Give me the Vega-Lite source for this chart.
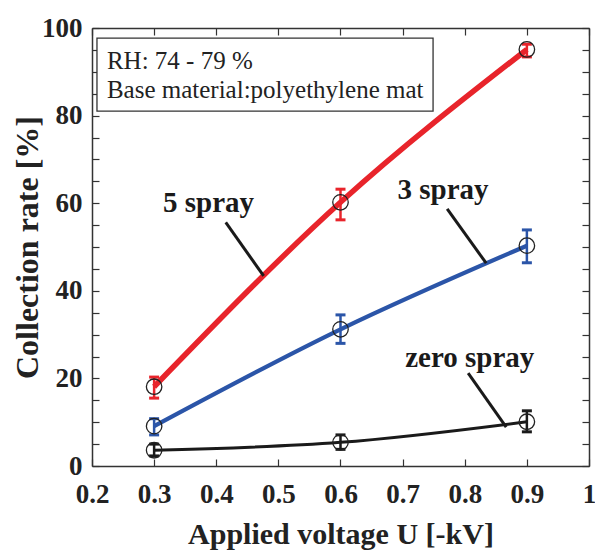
{
  "$schema": "https://vega.github.io/schema/vega-lite/v6.json",
  "autosize": {"type": "none"},
  "padding": {"left": 92, "top": 28, "right": 6, "bottom": 84},
  "width": 497,
  "height": 438,
  "background": "white",
  "config": {"view": {"stroke": null}},
  "datasets": {
    "pts": [
      {"series": "5 spray", "x": 0.3, "y": 18.1, "lo": 15.5, "hi": 20.3},
      {"series": "5 spray", "x": 0.6, "y": 60.2, "lo": 56.2, "hi": 63.2},
      {"series": "5 spray", "x": 0.9, "y": 95.1, "lo": 93.4, "hi": 96.3},
      {"series": "3 spray", "x": 0.3, "y": 9.1, "lo": 7.1, "hi": 10.8},
      {"series": "3 spray", "x": 0.6, "y": 31.2, "lo": 28.0, "hi": 34.5},
      {"series": "3 spray", "x": 0.9, "y": 50.3, "lo": 46.4, "hi": 53.9},
      {"series": "zero spray", "x": 0.3, "y": 3.6, "lo": 2.3, "hi": 5.0},
      {"series": "zero spray", "x": 0.6, "y": 5.4, "lo": 3.8, "hi": 7.1},
      {"series": "zero spray", "x": 0.9, "y": 10.1, "lo": 7.8, "hi": 12.6}
    ],
    "labels": [
      {"text": "5 spray", "x": 0.3876, "y": 58.1, "x1": 0.4153, "y1": 55.6, "x2": 0.4763, "y2": 43.4},
      {"text": "3 spray", "x": 0.765, "y": 61.0, "x1": 0.7717, "y1": 58.7, "x2": 0.8345, "y2": 46.3},
      {"text": "zero spray", "x": 0.808, "y": 22.7, "x1": 0.8055, "y1": 21.2, "x2": 0.8667, "y2": 8.9}
    ],
    "box": [{"x1": 0.208, "x2": 0.749, "y1": 81.0, "y2": 97.7}],
    "boxtext": [
      {"text": "RH: 74 - 79 %", "x": 0.224, "y": 90.6},
      {"text": "Base material:polyethylene mat", "x": 0.224, "y": 84.0}
    ]
  },
  "resolve": {"axis": {"x": "independent", "y": "independent"}},
  "layer": [
    {
      "data": {"name": "pts"},
      "mark": {"type": "line", "interpolate": "monotone"},
      "encoding": {
        "x": {"field": "x", "type": "quantitative", "scale": {"domain": [0.2, 1], "nice": false, "zero": false}, "axis": {
          "orient": "bottom", "values": [0.2, 0.3, 0.4, 0.5, 0.6, 0.7, 0.8, 0.9, 1], "format": "~g",
          "tickSize": -7, "tickColor": "#333", "tickWidth": 1.2, "labelPadding": 22,
          "domainColor": "#333", "domainWidth": 1.5, "grid": false,
          "labelFont": "Liberation Serif, Times New Roman, serif", "labelFontWeight": "bold", "labelFontSize": 27, "labelColor": "#222",
          "labelFlush": false, "labelOverlap": false,
          "title": "Applied voltage U [-kV]", "titleFont": "Liberation Serif, Times New Roman, serif", "titleFontWeight": "bold",
          "titleFontSize": 30, "titleColor": "#222", "titleBaseline": "alphabetic", "titleY": 77
        }},
        "y": {"field": "y", "type": "quantitative", "scale": {"domain": [0, 100], "nice": false}, "axis": {
          "orient": "left", "values": [0,5,10,15,20,25,30,35,40,45,50,55,60,65,70,75,80,85,90,95,100],
          "labelExpr": "datum.value % 20 === 0 ? datum.label : ''",
          "tickSize": -7, "tickColor": "#333", "tickWidth": 1.2, "labelPadding": 17,
          "domainColor": "#333", "domainWidth": 1.5, "grid": false,
          "labelFont": "Liberation Serif, Times New Roman, serif", "labelFontWeight": "bold", "labelFontSize": 27, "labelColor": "#222",
          "labelFlush": false, "labelOverlap": false,
          "title": "Collection rate [%]", "titleFont": "Liberation Serif, Times New Roman, serif", "titleFontWeight": "bold",
          "titleFontSize": 32, "titleColor": "#222", "titleBaseline": "alphabetic", "titleX": -55
        }},
        "detail": {"field": "series"},
        "color": {"field": "series", "type": "nominal", "scale": {"domain": ["5 spray", "3 spray", "zero spray"], "range": ["#e8242b", "#2b55a8", "#1a1a1a"]}, "legend": null},
        "strokeWidth": {"field": "series", "type": "nominal", "scale": {"domain": ["5 spray", "3 spray", "zero spray"], "range": [5.5, 3, 3.5]}, "legend": null}
      }
    },
    {
      "data": {"name": "pts"},
      "mark": {"type": "errorbar", "ticks": {"size": 10, "thickness": 3, "opacity": 1}, "rule": {"strokeWidth": 2.5, "opacity": 1}},
      "encoding": {
        "x": {"field": "x", "type": "quantitative", "axis": null},
        "y": {"field": "lo", "type": "quantitative", "axis": null},
        "y2": {"field": "hi"},
        "color": {"field": "series", "type": "nominal", "legend": null}
      }
    },
    {
      "data": {"name": "pts"},
      "mark": {"type": "point", "shape": "circle", "filled": false, "stroke": "#222", "strokeWidth": 1.3, "size": 240, "opacity": 1},
      "encoding": {
        "x": {"field": "x", "type": "quantitative", "axis": null},
        "y": {"field": "y", "type": "quantitative", "axis": null}
      }
    },
    {
      "data": {"name": "labels"},
      "mark": {"type": "rule", "stroke": "#1a1a1a", "strokeWidth": 3},
      "encoding": {
        "x": {"field": "x1", "type": "quantitative", "axis": null},
        "y": {"field": "y1", "type": "quantitative", "axis": null},
        "x2": {"field": "x2"},
        "y2": {"field": "y2"}
      }
    },
    {
      "data": {"name": "labels"},
      "mark": {"type": "text", "font": "Liberation Serif, Times New Roman, serif", "fontWeight": "bold", "fontSize": 29, "fill": "#1a1a1a", "align": "center", "baseline": "alphabetic"},
      "encoding": {
        "x": {"field": "x", "type": "quantitative", "axis": null},
        "y": {"field": "y", "type": "quantitative", "axis": null},
        "text": {"field": "text"}
      }
    },
    {
      "data": {"name": "box"},
      "mark": {"type": "rect", "fill": "white", "stroke": "#333", "strokeWidth": 1.3},
      "encoding": {
        "x": {"field": "x1", "type": "quantitative", "axis": null},
        "x2": {"field": "x2"},
        "y": {"field": "y1", "type": "quantitative", "axis": null},
        "y2": {"field": "y2"}
      }
    },
    {
      "data": {"name": "boxtext"},
      "mark": {"type": "text", "font": "Liberation Serif, Times New Roman, serif", "fontSize": 25, "fill": "#222", "align": "left", "baseline": "alphabetic"},
      "encoding": {
        "x": {"field": "x", "type": "quantitative", "axis": null},
        "y": {"field": "y", "type": "quantitative", "axis": null},
        "text": {"field": "text"}
      }
    },
    {
      "data": {"name": "box"},
      "mark": {"type": "point", "opacity": 0},
      "encoding": {
        "x": {"field": "x1", "type": "quantitative", "axis": {
          "orient": "top", "values": [0.2, 0.3, 0.4, 0.5, 0.6, 0.7, 0.8, 0.9, 1], "labels": false,
          "tickSize": -7, "tickColor": "#333", "tickWidth": 1.2,
          "domainColor": "#333", "domainWidth": 1.5, "grid": false, "title": null
        }},
        "y": {"field": "y1", "type": "quantitative", "axis": {
          "orient": "right", "values": [0,5,10,15,20,25,30,35,40,45,50,55,60,65,70,75,80,85,90,95,100], "labels": false,
          "tickSize": -7, "tickColor": "#333", "tickWidth": 1.2,
          "domainColor": "#333", "domainWidth": 1.5, "grid": false, "title": null
        }}
      }
    }
  ]
}
